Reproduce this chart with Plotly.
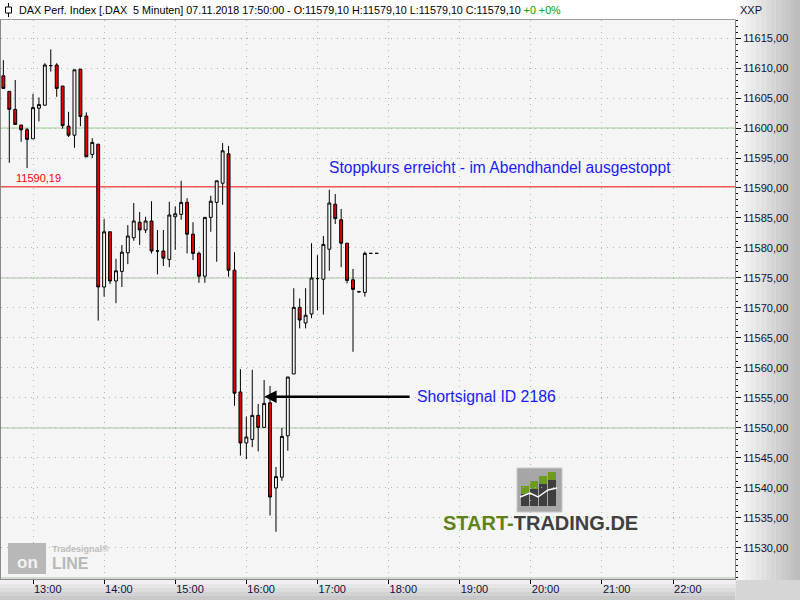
import plotly.graph_objects as go
import pandas as pd

# ---------------- data ----------------
start_time = "2018-11-07 12:35"
open_ = [11608.7, 11606.1, 11603.1, 11600.5, 11599.7, 11598.2, 11603.3, 11603.8, 11610.4, 11610.5,
         11607.0, 11600.3, 11598.8, 11609.8, 11602.0, 11595.6, 11597.3, 11573.5, 11582.7, 11574.5,
         11576.1, 11579.2, 11581.7, 11584.3, 11583.0, 11584.5, 11579.5, 11579.5, 11578.1, 11585.2,
         11585.6, 11587.6, 11582.3, 11579.1, 11575.3, 11585.1, 11587.6, 11590.8, 11595.7, 11576.3,
         11556.0, 11547.5, 11548.1, 11552.1, 11550.1, 11554.2, 11540.0, 11541.8, 11548.7, 11559.0,
         11570.1, 11567.5, 11569.0, 11574.9, 11574.8, 11579.8, 11587.3, 11584.7, 11580.8, 11574.7,
         11572.7, 11572.6, 11579.1, 11579.1]
high = [11611.3, 11606.1, 11608.0, 11600.5, 11600.0, 11605.7, 11605.1, 11610.8, 11613.1, 11610.8,
        11607.0, 11602.7, 11609.7, 11609.8, 11602.6, 11598.3, 11597.3, 11584.8, 11582.7, 11578.2,
        11580.5, 11583.8, 11587.5, 11586.0, 11585.2, 11587.8, 11583.0, 11583.0, 11587.7, 11586.9,
        11591.2, 11588.3, 11584.3, 11579.4, 11585.1, 11588.7, 11591.2, 11597.5, 11597.0, 11579.3,
        11559.8, 11551.9, 11559.7, 11554.0, 11558.0, 11557.0, 11543.5, 11550.0, 11558.5, 11573.3,
        11571.6, 11573.3, 11580.8, 11578.8, 11582.0, 11589.7, 11589.0, 11586.5, 11580.8, 11576.5,
        11572.7, 11579.4, 11579.1, 11579.1]
low = [11606.6, 11594.2, 11600.6, 11597.7, 11593.3, 11598.2, 11601.1, 11603.7, 11609.4, 11605.2,
       11599.9, 11598.5, 11596.7, 11600.3, 11595.2, 11595.0, 11567.9, 11571.9, 11574.0, 11570.8,
       11573.5, 11577.3, 11581.2, 11580.5, 11582.5, 11579.1, 11575.6, 11577.0, 11576.8, 11579.7,
       11584.7, 11579.1, 11578.0, 11574.2, 11574.2, 11582.7, 11577.7, 11587.2, 11575.2, 11553.7,
       11545.4, 11544.8, 11546.8, 11546.1, 11550.1, 11535.4, 11532.7, 11541.2, 11546.2, 11559.0,
       11566.6, 11566.6, 11568.3, 11569.6, 11568.9, 11576.2, 11584.0, 11576.8, 11574.1, 11562.7,
       11572.7, 11571.9, 11579.1, 11579.1]
close = [11606.6, 11603.1, 11600.6, 11599.7, 11598.1, 11603.4, 11603.9, 11610.5, 11610.4, 11606.6,
         11600.4, 11598.8, 11609.7, 11601.9, 11595.2, 11597.6, 11573.5, 11582.7, 11574.5, 11576.2,
         11579.3, 11582.0, 11584.5, 11583.0, 11584.5, 11579.5, 11579.5, 11578.3, 11585.5, 11585.7,
         11587.6, 11582.3, 11579.1, 11575.3, 11585.1, 11587.8, 11591.2, 11596.2, 11576.3, 11555.8,
         11547.5, 11548.5, 11552.1, 11550.1, 11554.1, 11538.5, 11541.9, 11548.6, 11558.5, 11570.1,
         11568.0, 11568.8, 11575.0, 11574.9, 11580.6, 11587.5, 11584.9, 11580.8, 11574.6, 11573.1,
         11572.7, 11579.1, 11579.1, 11579.1]
times = pd.date_range(start_time, periods=len(open_), freq="5min")

y_tick_values = [11530, 11535, 11540, 11545, 11550, 11555, 11560, 11565, 11570, 11575,
                 11580, 11585, 11590, 11595, 11600, 11605, 11610, 11615]
stop_level = 11590.19
stop_label = "11590,19"
signal_time = "2018-11-07 16:15"
signal_price = 11555.2
signal_text = "Shortsignal ID 2186"
stop_text = "Stoppkurs erreicht - im Abendhandel ausgestoppt"
stop_text_time = "2018-11-07 19:34"
green_levels = [11525, 11550, 11575, 11600]
header = ("DAX Perf. Index [.DAX\u00a0 5 Minuten] 07.11.2018 17:50:00 - O:11579,10 H:11579,10 "
          "L:11579,10 C:11579,10 ")
header_change = "+0 +0%"
x_range = ["2018-11-07 12:33:00", "2018-11-07 22:52:18"]
y_range = [11524.83, 11618.0]

# ---------------- geometry helpers ----------------
W, H = 800, 600
ML, MR, MT, MB = 1, 65, 20, 21
PW, PH = W - ML - MR, H - MT - MB


def PX(x):
    return (x - ML) / PW


def PY(y):
    return (H - MB - y) / PH


FONT = "Liberation Sans, Arial, sans-serif"

fig = go.Figure(go.Candlestick(
    x=times, open=open_, high=high, low=low, close=close,
    increasing=dict(line=dict(color="#000000", width=1), fillcolor="#f5f5f5"),
    decreasing=dict(line=dict(color="#000000", width=1), fillcolor="#e60000"),
    whiskerwidth=0, hoverinfo="skip", showlegend=False))

shapes = []
# right axis gradient
n = 13
for i in range(n):
    t = i / (n - 1)
    c = int(250 - t * (250 - 188))
    x0 = 735.5 + i * (64.5 / n)
    x1 = 735.5 + (i + 1) * (64.5 / n)
    shapes.append(dict(type="rect", xref="paper", yref="paper", x0=PX(x0), x1=PX(x1),
                       y0=PY(580), y1=PY(0), fillcolor=f"rgb({c},{c},{c})", line_width=0, layer="below"))
# bottom strip gradient
m = 5
for i in range(m):
    t = i / (m - 1)
    c = int(240 - t * (240 - 200))
    y0 = 580 + i * 4
    shapes.append(dict(type="rect", xref="paper", yref="paper", x0=PX(0), x1=PX(735.5),
                       y0=PY(y0 + 4), y1=PY(y0), fillcolor=f"rgb({c},{c},{c})", line_width=0, layer="below"))
# bottom right corner
shapes.append(dict(type="rect", xref="paper", yref="paper", x0=PX(735.5), x1=PX(800),
                   y0=PY(600), y1=PY(580), fillcolor="#d6d6d6", line_width=0, layer="below"))
# header bar
shapes.append(dict(type="rect", xref="paper", yref="paper", x0=PX(0), x1=PX(735.5),
                   y0=PY(19.5), y1=PY(0), fillcolor="#ffffff", line_width=0, layer="below"))
shapes.append(dict(type="line", xref="paper", yref="paper", x0=PX(0), x1=PX(735.5),
                   y0=PY(19.5), y1=PY(19.5), line=dict(color="#a0a0a0", width=1), layer="below"))
# header icon
shapes.append(dict(type="line", xref="paper", yref="paper", x0=PX(8.5), x1=PX(8.5),
                   y0=PY(17), y1=PY(3), line=dict(color="#000000", width=1)))
shapes.append(dict(type="rect", xref="paper", yref="paper", x0=PX(5.5), x1=PX(11.5),
                   y0=PY(13), y1=PY(7), fillcolor="#ffffff", line=dict(color="#000000", width=1)))
# green reference lines
for lv in green_levels:
    shapes.append(dict(type="line", xref="paper", yref="y", x0=0, x1=1, y0=lv, y1=lv,
                       line=dict(color="#a8c8a0", width=1), layer="below"))
# stop line
shapes.append(dict(type="line", xref="paper", yref="y", x0=0, x1=1, y0=stop_level, y1=stop_level,
                   line=dict(color="#ff0000", width=1), layer="below"))

# START-TRADING logo icon
shapes.append(dict(type="rect", xref="paper", yref="paper", x0=PX(517), x1=PX(562),
                   y0=PY(512), y1=PY(468), fillcolor="#a6a6a6", line=dict(color="#c8c8c8", width=1),
                   layer="below"))
bar_specs = [(521, 529, 486), (530, 538, 481), (539, 547, 476), (548, 556, 472)]
for bx0, bx1, btop in bar_specs:
    shapes.append(dict(type="rect", xref="paper", yref="paper", x0=PX(bx0), x1=PX(bx1),
                       y0=PY(506), y1=PY(btop + 8), fillcolor="#3e3e3e", line_width=0, layer="below"))
    shapes.append(dict(type="rect", xref="paper", yref="paper", x0=PX(bx0), x1=PX(bx1),
                       y0=PY(btop + 8), y1=PY(btop), fillcolor="#6e9a1e", line_width=0, layer="below"))
zig = [(520, 497), (530, 493), (538, 497), (548, 490), (557, 488)]
path = "M " + " L ".join(f"{PX(a)},{PY(b)}" for a, b in zig)
shapes.append(dict(type="path", xref="paper", yref="paper", path=path,
                   line=dict(color="#ffffff", width=1.5), layer="below"))
# Tradesignal online logo box
shapes.append(dict(type="rect", xref="paper", yref="paper", x0=PX(8), x1=PX(46),
                   y0=PY(574), y1=PY(543), fillcolor="#b8b8b8", line_width=0, layer="below"))

annotations = [
    dict(xref="paper", yref="paper", x=PX(17), y=PY(10), xanchor="left", yanchor="middle",
         text=header + f"<span style='color:#00a000'>{header_change}</span>",
         showarrow=False, font=dict(family=FONT, size=10.75, color="#000000")),
    dict(xref="paper", yref="paper", x=PX(738), y=PY(10), xanchor="left", yanchor="middle",
         text="XXP", showarrow=False, font=dict(family=FONT, size=11, color="#10103a")),
    dict(xref="x", yref="y", x=times[2], y=stop_level, xanchor="left", yanchor="bottom",
         xshift=-1, yshift=1, text=stop_label, showarrow=False,
         font=dict(family=FONT, size=11, color="#ff0000")),
    dict(xref="x", yref="y", x=stop_text_time, y=stop_level, xanchor="center", yanchor="bottom",
         yshift=9, text=stop_text, showarrow=False,
         font=dict(family=FONT, size=15.6, color="#1a1aff")),
    dict(xref="x", yref="y", x=signal_time, y=signal_price, ax=147, ay=0, text="",
         showarrow=True, arrowhead=2, arrowsize=1, arrowwidth=2.5, arrowcolor="#000000"),
    dict(xref="x", yref="y", x=signal_time, y=signal_price, xanchor="left", yanchor="middle",
         xshift=151, text=signal_text, showarrow=False,
         font=dict(family=FONT, size=15.8, color="#1a1aff")),
    dict(xref="paper", yref="paper", x=PX(540), y=PY(523), xanchor="center", yanchor="middle",
         text="<b><span style='color:#5f8219'>START-</span><span style='color:#404040'>TRADING.DE</span></b>",
         showarrow=False, font=dict(family=FONT, size=20)),
    dict(xref="paper", yref="paper", x=PX(27), y=PY(562), xanchor="center", yanchor="middle",
         text="<b>on</b>", showarrow=False, font=dict(family=FONT, size=17, color="#f2f2f2")),
    dict(xref="paper", yref="paper", x=PX(50), y=PY(563), xanchor="left", yanchor="middle",
         text="<b>LINE</b>", showarrow=False, font=dict(family=FONT, size=16, color="#b8b8b8")),
    dict(xref="paper", yref="paper", x=PX(50), y=PY(549), xanchor="left", yanchor="middle",
         text="<b>Tradesignal®</b>", showarrow=False, font=dict(family=FONT, size=9, color="#bcbcbc")),
]

fig.update_layout(
    width=W, height=H,
    margin=dict(l=ML, r=MR, t=MT, b=MB, pad=0),
    paper_bgcolor="#ffffff", plot_bgcolor="#f5f5f5",
    separators=",.",
    showlegend=False, dragmode=False,
    font=dict(family=FONT, size=11, color="#10103a"),
    shapes=shapes, annotations=annotations,
    xaxis=dict(type="date", range=x_range, rangeslider=dict(visible=False),
               tick0="2018-11-07 13:00", dtick=3600000, tickformat="%H:%M",
               ticks="outside", ticklen=4, tickcolor="#000000", ticklabelposition="outside right",
               tickfont=dict(family=FONT, size=11, color="#10103a"),
               showgrid=True, gridcolor="#9fc09f", griddash="1px,5px", gridwidth=1,
               showline=True, linecolor="#8a8a8a", linewidth=1, zeroline=False, fixedrange=True),
    yaxis=dict(side="right", range=y_range, tickmode="array", tickvals=y_tick_values,
               tickformat=".2f",
               ticks="outside", ticklen=5, tickcolor="#000000",
               minor=dict(tickmode="linear", tick0=11500, dtick=1, ticks="outside", ticklen=2,
                          tickcolor="#000000", showgrid=False),
               tickfont=dict(family=FONT, size=11, color="#10103a"),
               showgrid=True, gridcolor="#9fc09f", griddash="1px,5px", gridwidth=1,
               showline=True, mirror=True, linecolor="#8a8a8a", linewidth=1, zeroline=False,
               fixedrange=True),
)

fig.write_html("out.html", config={"displayModeBar": False},
               post_script="document.body.style.margin='0';document.body.style.overflow='hidden';")
